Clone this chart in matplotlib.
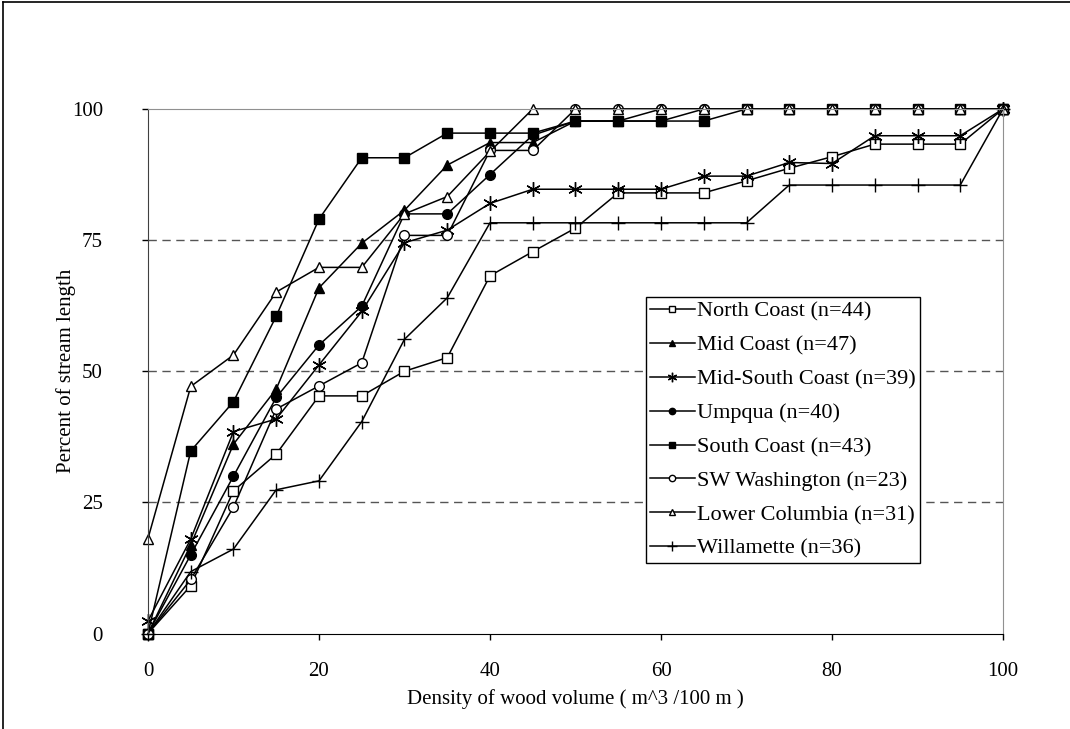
import matplotlib
matplotlib.use('Agg')
import matplotlib.pyplot as plt
from matplotlib.lines import Line2D

plt.rcParams['font.family'] = ['Liberation Serif', 'DejaVu Serif']

density = [0, 5, 10, 15, 20, 25, 30, 35, 40, 45, 50, 55, 60, 65, 70,
           75, 80, 85, 90, 95, 100]

north_coast = [0, 9.1, 27.2, 34.2, 45.3, 45.3, 50.0, 52.6, 68.2, 72.8, 77.3,
               84.0, 84.0, 84.0, 86.3, 88.7, 90.9, 93.3, 93.3, 93.3, 100]
mid_coast = [0, 16.9, 36.1, 46.6, 65.9, 74.4, 80.7, 89.3, 93.6, 93.6, 97.7,
             97.7, 97.7, 100, 100, 100, 100, 100, 100, 100, 100]
mid_south_coast = [2.4, 18.0, 38.5, 40.9, 51.2, 61.4, 74.5, 76.9, 82.0, 84.7,
                   84.7, 84.7, 84.7, 87.2, 87.2, 89.8, 89.6, 94.9, 94.9, 94.9,
                   100]
umpqua = [0, 15.0, 30.0, 45.0, 55.0, 62.4, 80.0, 80.0, 87.5, 95.0, 97.7,
          97.7, 100, 100, 100, 100, 100, 100, 100, 100, 100]
south_coast = [0, 34.8, 44.2, 60.5, 79.0, 90.7, 90.7, 95.4, 95.4, 95.4, 97.7,
               97.7, 97.7, 97.7, 100, 100, 100, 100, 100, 100, 100]
sw_washington = [0, 10.3, 24.1, 42.8, 47.2, 51.6, 75.9, 75.9, 92.1, 92.1, 100,
                 100, 100, 100, 100, 100, 100, 100, 100, 100, 100]
lower_columbia = [18.1, 47.1, 53.1, 65.1, 69.8, 69.8, 80.0, 83.3, 91.9, 100,
                  100, 100, 100, 100, 100, 100, 100, 100, 100, 100, 100]
willamette = [0, 11.8, 16.1, 27.4, 29.1, 40.4, 56.1, 64.0, 78.3, 78.3, 78.3,
              78.3, 78.3, 78.3, 78.3, 85.5, 85.5, 85.5, 85.5, 85.5, 100]

series = [
    ('North Coast (n=44)', north_coast, 's', 'white'),
    ('Mid Coast (n=47)', mid_coast, '^', 'black'),
    ('Mid-South Coast (n=39)', mid_south_coast, (6, 2, 0), 'black'),
    ('Umpqua (n=40)', umpqua, 'o', 'black'),
    ('South Coast (n=43)', south_coast, 's', 'black'),
    ('SW Washington (n=23)', sw_washington, 'o', 'white'),
    ('Lower Columbia (n=31)', lower_columbia, '^', 'white'),
    ('Willamette (n=36)', willamette, '+', 'black'),
]

fig = plt.figure(figsize=(10.7, 7.29), dpi=100)
ax = fig.add_axes([0.1383, 0.131, 0.7991, 0.7195])

for label, values, marker, face in series:
    size = 10.5 if marker in ('+', (6, 2, 0)) else 7
    ax.plot(density, values, color='black', linewidth=1.1, marker=marker,
            markersize=size, markerfacecolor=face, markeredgecolor='black',
            markeredgewidth=1.0, label=label, clip_on=False)

for level in (25, 50, 75):
    ax.axhline(level, color='#555555', linewidth=1.0, linestyle=(0, (6, 4)),
               zorder=0)

ax.set_xlim(0, 100)
ax.set_ylim(0, 100)
ax.set_xticks([0, 20, 40, 60, 80, 100])
ax.set_yticks([0, 25, 50, 75, 100])
ax.tick_params(axis='both', direction='out', length=4.5, width=1,
               labelsize=15)
ax.tick_params(axis='x', pad=16)
ax.tick_params(axis='y', pad=28)
ax.spines['top'].set_color('#909090')
ax.spines['right'].set_color('#909090')
ax.spines['left'].set_color('#404040')

ax.set_xlabel('Density of wood volume ( m^3 /100 m )', fontsize=15,
              labelpad=6)
ax.set_ylabel('Percent of stream length', fontsize=15)
ax.yaxis.set_label_coords(-0.084, 0.5)

leg = ax.legend(loc='upper left', bbox_to_anchor=(0.582, 0.642),
                fontsize=16, frameon=True, fancybox=False,
                edgecolor='black', framealpha=1, borderpad=0.2,
                labelspacing=0.6, handlelength=2.0, handletextpad=0.1,
                markerscale=0.65, borderaxespad=0)
leg.get_frame().set_linewidth(1.0)

# outer frame of the chart area
fig.add_artist(Line2D([0.003, 0.003], [0.0, 0.997], color='black',
                      linewidth=1.2, transform=fig.transFigure))
fig.add_artist(Line2D([0.003, 1.0], [0.997, 0.997], color='black',
                      linewidth=1.2, transform=fig.transFigure))

fig.savefig('out.png', dpi=100)
